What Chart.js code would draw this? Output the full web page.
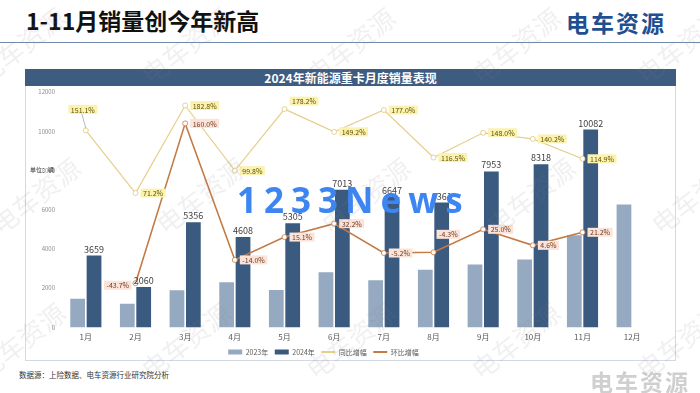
<!DOCTYPE html>
<html>
<head>
<meta charset="utf-8">
<script src="https://cdn.jsdelivr.net/npm/chart.js@4.4.1/dist/chart.umd.min.js"></script>
<style>
  body { margin: 0; width: 700px; height: 393px; overflow: hidden; background: #fff; position: relative;
         font-family: "Noto Sans CJK SC", "Noto Sans", sans-serif; }
  #title { position: absolute; left: 26px; top: 3px; font-size: 23px; font-weight: bold; color: #111; }
  #rule { position: absolute; left: 0; top: 42px; width: 700px; height: 1px; background: #6f8cae; }
  #logo { position: absolute; left: 566px; top: 5px; font-size: 23px; font-weight: bold; color: #1e4f91; letter-spacing: 2px; }
  #box { position: absolute; left: 25px; top: 69px; width: 649px; height: 290px; border: 1px solid #d3d9e0; }
  #head { position: absolute; left: 25px; top: 69px; width: 651px; height: 17px; background: #3d5c80; color: #fff;
          font-size: 12px; font-weight: bold; text-align: center; line-height: 17px; }
  #wrap { position: absolute; left: 26px; top: 87px; width: 648px; height: 280px; }
  #unit { position: absolute; left: 30px; top: 165px; font-size: 6px; color: #333; }
  #src { position: absolute; left: 19px; top: 369px; font-size: 7.5px; color: #333; }
  #logo2 { position: absolute; left: 590px; top: 364px; font-size: 23px; font-weight: bold; color: #cfcfcf; letter-spacing: 2px; }
  .wm { position: absolute; font-size: 26px; color: rgba(130,130,130,0.12); transform: translate(-50%,-50%) rotate(-38deg);
        white-space: nowrap; pointer-events: none; }
  #news { position: absolute; left: 237px; top: 176px; font-family: "Open Sans", sans-serif; font-weight: bold; font-size: 35px;
          color: #3d85f0; letter-spacing: 7px; pointer-events: none; }
</style>
</head>
<body>
<div id="title">1-11月销量创今年新高</div>
<div id="logo">电车资源</div>
<div id="rule"></div>
<div id="box"></div>
<div id="head">2024年新能源重卡月度销量表现</div>
<div id="wrap"><canvas id="salesChart"></canvas></div>
<div id="unit">单位：辆</div>
<div id="src">数据源：上险数据、电车资源行业研究院分析</div>
<div id="logo2">电车资源</div>
<div id="marks"></div>
<div id="news">1233News</div>
<script>
const months = ['1月', '2月', '3月', '4月', '5月', '6月', '7月', '8月', '9月', '10月', '11月', '12月'];
const sales2023 = [1457, 1203, 1894, 2306, 1907, 2814, 2400, 2938, 3207, 3463, 4692, 6270];
const sales2024 = [3659, 2060, 5356, 4608, 5305, 7013, 6647, 6361, 7953, 8318, 10082, null];
const yoyGrowth = [151.1, 71.2, 182.8, 99.8, 178.2, 149.2, 177.0, 116.5, 148.0, 140.2, 114.9, null];
const momGrowth = [null, -43.7, 160.0, -14.0, 15.1, 32.2, -5.2, -4.3, 25.0, 4.6, 21.2, null];
const salesTicks = [0, 2000, 4000, 6000, 8000, 10000, 12000];

// where a growth tag sits next to its point (default: right of it)
const yoyTagPlace = { 0: 'above', 4: 'up' };
const momTagPlace = { 1: 'left', 7: 'upright' };

// faint watermark tiles
const wmCols = [20, 185, 350, 515, 680];
const wmRows = [45, 195, 340];
wmRows.forEach(function(y, r) {
    wmCols.forEach(function(x) {
        const d = document.createElement('div');
        d.className = 'wm';
        d.textContent = '电车资源';
        d.style.left = (x + (r % 2) * 15) + 'px';
        d.style.top = y + 'px';
        document.getElementById('marks').appendChild(d);
    });
});

function drawTags(chart, index, values, bg, fg, place) {
    const ctx = chart.ctx;
    const meta = chart.getDatasetMeta(index);
    ctx.font = '7px "Noto Sans CJK SC"';
    ctx.textAlign = 'left';
    ctx.textBaseline = 'middle';
    meta.data.forEach(function(pt, i) {
        if (values[i] == null) return;
        const text = values[i].toFixed(1) + '%';
        const w = ctx.measureText(text).width + 5;
        const h = 9;
        let left = pt.x + 5;
        let cy = pt.y;
        const mode = place[i];
        if (mode === 'left') { left = pt.x - 4 - w; cy = pt.y + 2; }
        if (mode === 'up') { cy = pt.y - 8; }
        if (mode === 'upright') { left = pt.x + 3; cy = pt.y - 18; }
        if (mode === 'above') {
            left = pt.x - 3 - w / 2; cy = pt.y - 21;
            ctx.strokeStyle = '#8a8aa0';
            ctx.lineWidth = 0.6;
            ctx.beginPath();
            ctx.moveTo(pt.x - 4, cy + h / 2);
            ctx.lineTo(pt.x, pt.y - 2);
            ctx.stroke();
        }
        ctx.fillStyle = bg;
        ctx.fillRect(left, cy - h / 2, w, h);
        ctx.fillStyle = fg;
        ctx.fillText(text, left + 2.5, cy + 0.5);
    });
}

const valueLabels = {
    id: 'valueLabels',
    afterLayout(chart) {
        // legend sits a little left of centre in the original
        chart.legend.right -= 36;
    },
    afterDatasetsDraw(chart) {
        const ctx = chart.ctx;
        ctx.save();
        ctx.font = '9px "Noto Sans CJK SC"';
        ctx.fillStyle = '#404040';
        ctx.textAlign = 'center';
        ctx.textBaseline = 'bottom';
        chart.getDatasetMeta(1).data.forEach(function(bar, i) {
            if (sales2024[i] == null) return;
            ctx.fillText(sales2024[i], bar.x, bar.y - 2);
        });
        drawTags(chart, 2, yoyGrowth, '#fbf2b0', '#5e5200', yoyTagPlace);
        drawTags(chart, 3, momGrowth, '#fbe3d8', '#6e3a22', momTagPlace);
        ctx.restore();
    }
};

const ctx = document.getElementById('salesChart').getContext('2d');
const chart = new Chart(ctx, {
    type: 'bar',
    data: {
        labels: months,
        datasets: [
            { label: '2023年', data: sales2023, backgroundColor: '#95aac0', yAxisID: 'y', order: 2,
              categoryPercentage: 0.66, barPercentage: 0.9 },
            { label: '2024年', data: sales2024, backgroundColor: '#3a5a80', yAxisID: 'y', order: 2,
              categoryPercentage: 0.66, barPercentage: 0.9 },
            { type: 'line', label: '同比增幅', data: yoyGrowth, yAxisID: 'y1', order: 1,
              borderColor: '#e6cf8a', borderWidth: 1.2, pointRadius: 2.5, pointBackgroundColor: '#fff',
              pointBorderColor: '#e0c77e', pointBorderWidth: 0.8, tension: 0 },
            { type: 'line', label: '环比增幅', data: momGrowth, yAxisID: 'y1', order: 0,
              borderColor: '#c47a45', borderWidth: 1.6, pointRadius: 2.5, pointBackgroundColor: '#fff',
              pointBorderColor: '#c47a45', pointBorderWidth: 0.8, tension: 0 }
        ]
    },
    options: {
        responsive: true,
        maintainAspectRatio: false,
        animation: false,
        layout: { autoPadding: false, padding: { top: 5, right: 17, left: 0, bottom: 1.5 } },
        plugins: {
            tooltip: { enabled: false },
            legend: {
                position: 'bottom',
                labels: {
                    font: { size: 7, family: '"Noto Sans CJK SC"' },
                    color: '#595959',
                    usePointStyle: true,
                    pointStyleWidth: 14,
                    boxHeight: 5,
                    padding: 6.5,
                    generateLabels: function(chart) {
                        return chart.data.datasets.map(function(ds, i) {
                            const isLine = ds.type === 'line';
                            return {
                                text: ds.label,
                                datasetIndex: i,
                                fillStyle: isLine ? '#fff' : ds.backgroundColor,
                                strokeStyle: isLine ? ds.borderColor : ds.backgroundColor,
                                lineWidth: isLine ? 2 : 0,
                                pointStyle: isLine ? 'line' : 'rect',
                                fontColor: '#595959',
                                hidden: false
                            };
                        });
                    }
                }
            }
        },
        scales: {
            x: {
                afterFit: function(scale) { scale.height = 14.6; },
                grid: { display: false, drawTicks: false },
                border: { display: false },
                ticks: { font: { size: 8, family: '"Noto Sans CJK SC"' }, color: '#595959', padding: 5 }
            },
            y: {
                min: 0, max: 12000,
                afterBuildTicks: function(scale) { scale.ticks = salesTicks.map(v => ({ value: v })); },
                afterFit: function(scale) { scale.width = 35; scale.paddingTop = 0; scale.paddingBottom = 0; },
                grid: { display: false, drawTicks: false },
                border: { display: false },
                ticks: { font: { size: 6, family: '"Noto Sans CJK SC"' }, color: '#8c8c8c', padding: 6,
                         callback: function(v) { return String(v); } }
            },
            y1: { position: 'right', min: -100, max: 200, display: false }
        }
    },
    plugins: [valueLabels]
});
</script>
</body>
</html>
